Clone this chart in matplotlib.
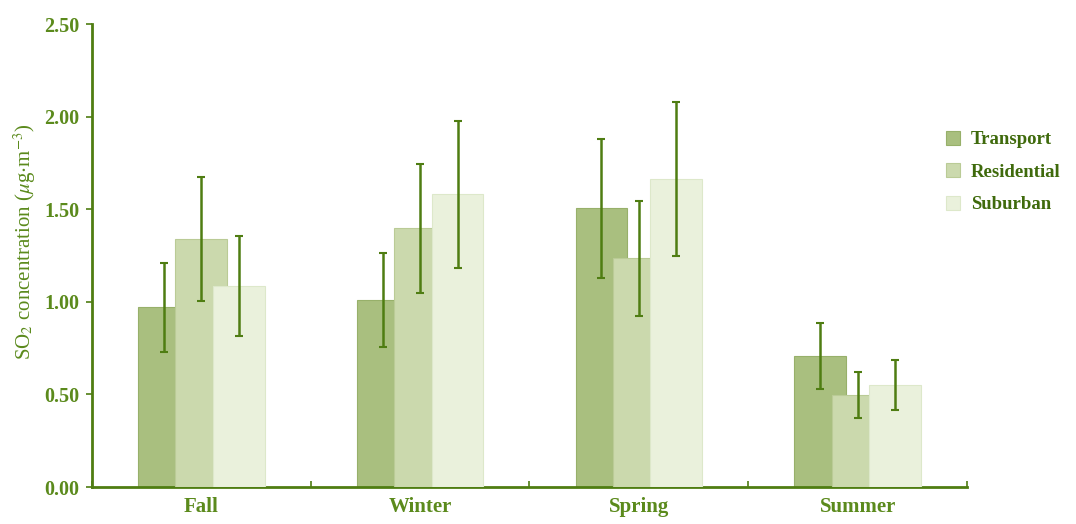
import numpy as np
import matplotlib
matplotlib.use("Agg")
import matplotlib.pyplot as plt

seasons = ["Fall", "Winter", "Spring", "Summer"]
groups = ["Transport", "Residential", "Suburban"]
transport = [0.97, 1.01, 1.505, 0.707]
transport_err = [0.24, 0.255, 0.377, 0.18]
residential = [1.337, 1.397, 1.235, 0.497]
residential_err = [0.335, 0.35, 0.31, 0.123]
suburban = [1.085, 1.58, 1.663, 0.551]
suburban_err = [0.27, 0.395, 0.415, 0.137]

colors = ["#a9bf7f", "#cbd9ad", "#eaf1dc"]
edge_colors = ["#97b06a", "#bacb96", "#dde8ca"]
green = "#4f7d12"
text_green = "#5b8a1c"

plt.rcParams["font.family"] = ["Liberation Serif", "DejaVu Serif"]
plt.rcParams["mathtext.fontset"] = "stix"

fig = plt.figure(figsize=(10.76, 5.24), dpi=100)
ax = fig.add_axes([0.0855, 0.0706, 0.8132, 0.8834])

x = np.arange(len(seasons))
step = 0.171
width = 0.237
series = [(transport, transport_err), (residential, residential_err), (suburban, suburban_err)]
for i, (vals, errs) in enumerate(series):
    pos = x + (i - 1) * step
    ax.bar(pos, vals, width=width, color=colors[i], edgecolor=edge_colors[i],
           linewidth=0.8, label=groups[i], zorder=2 + i)
    ax.errorbar(pos, vals, yerr=errs, fmt="none", ecolor=green, elinewidth=1.8,
                capsize=3, capthick=1.5, zorder=10)

ax.set_xlim(-0.5, 3.5)
ax.set_ylim(0, 2.5)
ax.set_yticks([0, 0.5, 1.0, 1.5, 2.0, 2.5])
ax.set_yticklabels(["0.00", "0.50", "1.00", "1.50", "2.00", "2.50"], fontweight="bold")
ax.set_xticks(x)
ax.set_xticklabels(seasons, fontweight="bold")
ax.set_xticks(np.arange(-0.5, 4.0, 1.0), minor=True)
ax.tick_params(axis="x", which="major", length=0, pad=7, labelsize=15, labelcolor=text_green)
ax.tick_params(axis="x", which="minor", length=4, width=1.2, color=green, direction="in")
ax.tick_params(axis="y", length=4, width=1.2, color=green, labelsize=14.5, labelcolor=text_green, pad=5)
for s in ["top", "right"]:
    ax.spines[s].set_visible(False)
for s in ["left", "bottom"]:
    ax.spines[s].set_color(green)
    ax.spines[s].set_linewidth(2)

ax.set_ylabel(r"SO$_2$ concentration ($\mu$g$\cdot$m$^{-3}$)", color=text_green, fontsize=15)
ax.yaxis.set_label_coords(-0.062, 0.53)

handles, labels = ax.get_legend_handles_labels()
leg = fig.legend(handles, labels, loc="upper left", bbox_to_anchor=(0.879, 0.75), frameon=False,
                 prop={"size": 13.5, "weight": "bold"}, borderpad=0, borderaxespad=0,
                 handlelength=0.75, handleheight=0.75, handletextpad=0.6, labelspacing=0.8)
for t in leg.get_texts():
    t.set_color("#3f6a0c")

fig.savefig("out.png", dpi=100)
